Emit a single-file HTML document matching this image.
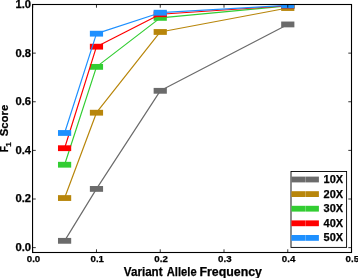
<!DOCTYPE html><html><head><meta charset="utf-8"><style>html,body{margin:0;padding:0;background:#fff}svg{display:block;will-change:transform}text{font-family:"Liberation Sans",sans-serif;font-weight:bold;fill:#000;stroke:#000;stroke-width:0.25px;stroke-linejoin:round}</style></head><body>
<svg width="358" height="278" viewBox="0 0 358 278">
<rect width="358" height="278" fill="#fff"/>
<defs><clipPath id="c"><rect x="32.55" y="4.50" width="318.95" height="248.00"/></clipPath></defs>
<g clip-path="url(#c)">
<polyline points="64.59,240.83 96.47,188.92 160.24,90.81 287.78,24.44" fill="none" stroke="#6b6b6b" stroke-width="1.2" stroke-linejoin="round"/>
<rect x="57.99" y="237.93" width="13.20" height="5.80" fill="#6b6b6b"/>
<rect x="89.87" y="186.02" width="13.20" height="5.80" fill="#6b6b6b"/>
<rect x="153.64" y="87.91" width="13.20" height="5.80" fill="#6b6b6b"/>
<rect x="281.18" y="21.54" width="13.20" height="5.80" fill="#6b6b6b"/>
<polyline points="64.59,198.04 96.47,112.70 160.24,31.97 287.78,8.03" fill="none" stroke="#b8860b" stroke-width="1.2" stroke-linejoin="round"/>
<rect x="57.99" y="195.14" width="13.20" height="5.80" fill="#b8860b"/>
<rect x="89.87" y="109.80" width="13.20" height="5.80" fill="#b8860b"/>
<rect x="153.64" y="29.07" width="13.20" height="5.80" fill="#b8860b"/>
<rect x="281.18" y="5.13" width="13.20" height="5.80" fill="#b8860b"/>
<polyline points="64.59,164.73 96.47,66.87 160.24,17.87 287.78,5.84" fill="none" stroke="#32cd32" stroke-width="1.2" stroke-linejoin="round"/>
<rect x="57.99" y="161.83" width="13.20" height="5.80" fill="#32cd32"/>
<rect x="89.87" y="63.97" width="13.20" height="5.80" fill="#32cd32"/>
<rect x="153.64" y="14.97" width="13.20" height="5.80" fill="#32cd32"/>
<rect x="281.18" y="2.94" width="13.20" height="5.80" fill="#32cd32"/>
<polyline points="64.59,148.20 96.47,46.68 160.24,14.23 287.78,5.74" fill="none" stroke="#ff0000" stroke-width="1.2" stroke-linejoin="round"/>
<rect x="57.99" y="145.30" width="13.20" height="5.80" fill="#ff0000"/>
<rect x="89.87" y="43.78" width="13.20" height="5.80" fill="#ff0000"/>
<rect x="153.64" y="11.33" width="13.20" height="5.80" fill="#ff0000"/>
<rect x="281.18" y="2.84" width="13.20" height="5.80" fill="#ff0000"/>
<polyline points="64.59,132.98 96.47,33.68 160.24,12.72 287.78,5.35" fill="none" stroke="#1e90ff" stroke-width="1.2" stroke-linejoin="round"/>
<rect x="57.99" y="130.08" width="13.20" height="5.80" fill="#1e90ff"/>
<rect x="89.87" y="30.78" width="13.20" height="5.80" fill="#1e90ff"/>
<rect x="153.64" y="9.82" width="13.20" height="5.80" fill="#1e90ff"/>
<rect x="281.18" y="2.45" width="13.20" height="5.80" fill="#1e90ff"/>
</g>
<rect x="32.55" y="4.50" width="318.95" height="248.00" fill="none" stroke="#000" stroke-width="1.1"/>
<line x1="32.70" y1="252.50" x2="32.70" y2="249.30" stroke="#000" stroke-width="0.8"/>
<line x1="32.70" y1="4.50" x2="32.70" y2="7.70" stroke="#000" stroke-width="0.8"/>
<text x="33.50" y="261.50" font-size="9.6" textLength="13.5" lengthAdjust="spacingAndGlyphs" text-anchor="middle">0.0</text>
<line x1="96.47" y1="252.50" x2="96.47" y2="249.30" stroke="#000" stroke-width="0.8"/>
<line x1="96.47" y1="4.50" x2="96.47" y2="7.70" stroke="#000" stroke-width="0.8"/>
<text x="97.27" y="261.50" font-size="9.6" textLength="13.5" lengthAdjust="spacingAndGlyphs" text-anchor="middle">0.1</text>
<line x1="160.24" y1="252.50" x2="160.24" y2="249.30" stroke="#000" stroke-width="0.8"/>
<line x1="160.24" y1="4.50" x2="160.24" y2="7.70" stroke="#000" stroke-width="0.8"/>
<text x="161.04" y="261.50" font-size="9.6" textLength="13.5" lengthAdjust="spacingAndGlyphs" text-anchor="middle">0.2</text>
<line x1="224.01" y1="252.50" x2="224.01" y2="249.30" stroke="#000" stroke-width="0.8"/>
<line x1="224.01" y1="4.50" x2="224.01" y2="7.70" stroke="#000" stroke-width="0.8"/>
<text x="224.81" y="261.50" font-size="9.6" textLength="13.5" lengthAdjust="spacingAndGlyphs" text-anchor="middle">0.3</text>
<line x1="287.78" y1="252.50" x2="287.78" y2="249.30" stroke="#000" stroke-width="0.8"/>
<line x1="287.78" y1="4.50" x2="287.78" y2="7.70" stroke="#000" stroke-width="0.8"/>
<text x="288.58" y="261.50" font-size="9.6" textLength="13.5" lengthAdjust="spacingAndGlyphs" text-anchor="middle">0.4</text>
<line x1="351.55" y1="252.50" x2="351.55" y2="249.30" stroke="#000" stroke-width="0.8"/>
<line x1="351.55" y1="4.50" x2="351.55" y2="7.70" stroke="#000" stroke-width="0.8"/>
<text x="352.35" y="261.50" font-size="9.6" textLength="13.5" lengthAdjust="spacingAndGlyphs" text-anchor="middle">0.5</text>
<line x1="32.55" y1="247.64" x2="35.75" y2="247.64" stroke="#000" stroke-width="0.8"/>
<line x1="351.50" y1="247.64" x2="348.30" y2="247.64" stroke="#000" stroke-width="0.8"/>
<text x="31.10" y="251.04" font-size="10.2" textLength="15.6" lengthAdjust="spacingAndGlyphs" text-anchor="end">0.0</text>
<line x1="32.55" y1="199.01" x2="35.75" y2="199.01" stroke="#000" stroke-width="0.8"/>
<line x1="351.50" y1="199.01" x2="348.30" y2="199.01" stroke="#000" stroke-width="0.8"/>
<text x="31.10" y="202.41" font-size="10.2" textLength="15.6" lengthAdjust="spacingAndGlyphs" text-anchor="end">0.2</text>
<line x1="32.55" y1="150.38" x2="35.75" y2="150.38" stroke="#000" stroke-width="0.8"/>
<line x1="351.50" y1="150.38" x2="348.30" y2="150.38" stroke="#000" stroke-width="0.8"/>
<text x="31.10" y="153.78" font-size="10.2" textLength="15.6" lengthAdjust="spacingAndGlyphs" text-anchor="end">0.4</text>
<line x1="32.55" y1="101.76" x2="35.75" y2="101.76" stroke="#000" stroke-width="0.8"/>
<line x1="351.50" y1="101.76" x2="348.30" y2="101.76" stroke="#000" stroke-width="0.8"/>
<text x="31.10" y="105.16" font-size="10.2" textLength="15.6" lengthAdjust="spacingAndGlyphs" text-anchor="end">0.6</text>
<line x1="32.55" y1="53.13" x2="35.75" y2="53.13" stroke="#000" stroke-width="0.8"/>
<line x1="351.50" y1="53.13" x2="348.30" y2="53.13" stroke="#000" stroke-width="0.8"/>
<text x="31.10" y="56.53" font-size="10.2" textLength="15.6" lengthAdjust="spacingAndGlyphs" text-anchor="end">0.8</text>
<line x1="32.55" y1="4.50" x2="35.75" y2="4.50" stroke="#000" stroke-width="0.8"/>
<line x1="351.50" y1="4.50" x2="348.30" y2="4.50" stroke="#000" stroke-width="0.8"/>
<text x="31.10" y="7.90" font-size="10.2" textLength="15.6" lengthAdjust="spacingAndGlyphs" text-anchor="end">1.0</text>
<text x="123.80" y="276.0" font-size="12.3" textLength="38.80" lengthAdjust="spacingAndGlyphs">Variant</text>
<text x="166.80" y="276.0" font-size="12.3" textLength="29.80" lengthAdjust="spacingAndGlyphs">Allele</text>
<text x="199.40" y="276.0" font-size="12.3" textLength="62.60" lengthAdjust="spacingAndGlyphs">Frequency</text>
<g transform="translate(8.0,152.3) rotate(-90)"><text x="0" y="0" font-size="10.2" textLength="6.2" lengthAdjust="spacingAndGlyphs">F</text><text x="5.5" y="3.2" font-size="7.3" textLength="4.6" lengthAdjust="spacingAndGlyphs">1</text><text x="16.1" y="0" font-size="10.2" textLength="31.4" lengthAdjust="spacingAndGlyphs">Score</text></g>
<rect x="291.00" y="171.50" width="55.60" height="75.90" fill="#fff" stroke="#000" stroke-width="0.9"/>
<rect x="291.4" y="176.60" width="13.8" height="5.8" fill="#6b6b6b"/><rect x="305.35" y="176.60" width="13.55" height="5.8" fill="#6b6b6b"/>
<text x="323.6" y="183.00" font-size="10.2" textLength="19.6" lengthAdjust="spacingAndGlyphs">10X</text>
<rect x="291.4" y="191.20" width="13.8" height="5.8" fill="#b8860b"/><rect x="305.35" y="191.20" width="13.55" height="5.8" fill="#b8860b"/>
<text x="323.6" y="197.60" font-size="10.2" textLength="19.6" lengthAdjust="spacingAndGlyphs">20X</text>
<rect x="291.4" y="205.80" width="13.8" height="5.8" fill="#32cd32"/><rect x="305.35" y="205.80" width="13.55" height="5.8" fill="#32cd32"/>
<text x="323.6" y="212.20" font-size="10.2" textLength="19.6" lengthAdjust="spacingAndGlyphs">30X</text>
<rect x="291.4" y="220.40" width="13.8" height="5.8" fill="#ff0000"/><rect x="305.35" y="220.40" width="13.55" height="5.8" fill="#ff0000"/>
<text x="323.6" y="226.80" font-size="10.2" textLength="19.6" lengthAdjust="spacingAndGlyphs">40X</text>
<rect x="291.4" y="235.00" width="13.8" height="5.8" fill="#1e90ff"/><rect x="305.35" y="235.00" width="13.55" height="5.8" fill="#1e90ff"/>
<text x="323.6" y="241.40" font-size="10.2" textLength="19.6" lengthAdjust="spacingAndGlyphs">50X</text>
</svg></body></html>
